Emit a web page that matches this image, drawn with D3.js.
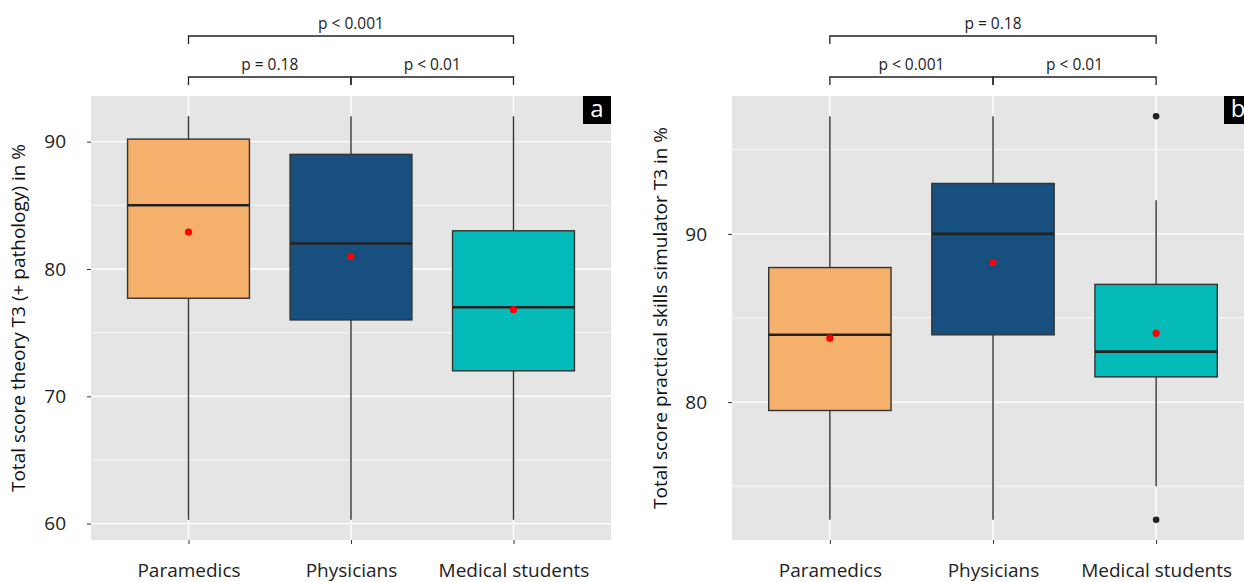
<!DOCTYPE html>
<html>
<head>
<meta charset="utf-8">
<script src="https://cdn.jsdelivr.net/npm/d3@7"></script>
<style>
  html, body { margin: 0; padding: 0; background: #fff; }
  svg { display: block; font-family: "Open Sans", "Noto Sans", sans-serif; }
</style>
</head>
<body>
<svg id="chart" width="1244" height="582"></svg>
<script>
// Groups shown on both panels
const groups = ["Paramedics", "Physicians", "Medical students"];
const fills = ["#F5B06B", "#17507F", "#05BBBA"];

// Panel a: theory score T3 (+ pathology)
const theoryLow    = [60.3, 60.3, 60.3];
const theoryQ1     = [77.7, 76, 72];
const theoryMedian = [85, 82, 77];
const theoryQ3     = [90.2, 89, 83];
const theoryHigh   = [92, 92, 92];
const theoryMean   = [82.9, 81, 76.8];
const theoryOutliers = [[], [], []];
const theoryTicks  = [60, 70, 80, 90];
const theoryMinor  = [65, 75, 85];
const theoryP      = ["p = 0.18", "p < 0.01", "p < 0.001"];

// Panel b: practical skills simulator score T3
const skillsLow    = [73, 73, 75];
const skillsQ1     = [79.5, 84, 81.5];
const skillsMedian = [84, 90, 83];
const skillsQ3     = [88, 93, 87];
const skillsHigh   = [97, 97, 92];
const skillsMean   = [83.8, 88.3, 84.1];
const skillsOutliers = [[], [], [73, 97]];
const skillsTicks  = [80, 90];
const skillsMinor  = [75, 85, 95];
const skillsP      = ["p < 0.001", "p < 0.01", "p = 0.18"];

const svg = d3.select("#chart");
const panelTop = 96, panelBottom = 540;

function panel(opt) {
  const g = svg.append("g");
  const x = d3.scalePoint().domain(groups).range([opt.x0, opt.x1]).padding(0.6);
  const step = x.step();
  const boxW = step * 0.75;

  const lo = d3.min([...opt.low, ...opt.outliers.flat()]);
  const hi = d3.max([...opt.high, ...opt.outliers.flat()]);
  const pad = (hi - lo) * 0.05;
  const y = d3.scaleLinear().domain([lo - pad, hi + pad]).range([panelBottom, panelTop]);

  // panel background
  g.append("rect").attr("x", opt.x0).attr("y", panelTop)
    .attr("width", opt.x1 - opt.x0).attr("height", panelBottom - panelTop)
    .attr("fill", "#E5E5E5");

  // grid
  g.selectAll(".minor").data(opt.minor).join("line")
    .attr("x1", opt.x0).attr("x2", opt.x1)
    .attr("y1", d => y(d)).attr("y2", d => y(d))
    .attr("stroke", "#fff").attr("stroke-width", 0.7);
  g.selectAll(".major").data(opt.ticks).join("line")
    .attr("x1", opt.x0).attr("x2", opt.x1)
    .attr("y1", d => y(d)).attr("y2", d => y(d))
    .attr("stroke", "#fff").attr("stroke-width", 1.4);
  g.selectAll(".vmajor").data(groups).join("line")
    .attr("x1", d => x(d)).attr("x2", d => x(d))
    .attr("y1", panelTop).attr("y2", panelBottom)
    .attr("stroke", "#fff").attr("stroke-width", 1.4);

  // whiskers, boxes, medians, outliers, means
  groups.forEach((grp, i) => {
    const cx = x(grp);
    g.append("line").attr("x1", cx).attr("x2", cx)
      .attr("y1", y(opt.q3[i])).attr("y2", y(opt.high[i]))
      .attr("stroke", "#333").attr("stroke-width", 1.4);
    g.append("line").attr("x1", cx).attr("x2", cx)
      .attr("y1", y(opt.q1[i])).attr("y2", y(opt.low[i]))
      .attr("stroke", "#333").attr("stroke-width", 1.4);
    g.append("rect")
      .attr("x", cx - boxW / 2).attr("width", boxW)
      .attr("y", y(opt.q3[i])).attr("height", y(opt.q1[i]) - y(opt.q3[i]))
      .attr("fill", fills[i]).attr("stroke", "#333").attr("stroke-width", 1.4);
    g.append("line")
      .attr("x1", cx - boxW / 2).attr("x2", cx + boxW / 2)
      .attr("y1", y(opt.median[i])).attr("y2", y(opt.median[i]))
      .attr("stroke", "#222").attr("stroke-width", 2.6);
    opt.outliers[i].forEach(v => {
      g.append("circle").attr("cx", cx).attr("cy", y(v)).attr("r", 3.3)
        .attr("fill", "#222");
    });
    g.append("circle").attr("cx", cx).attr("cy", y(opt.mean[i])).attr("r", 3.6)
      .attr("fill", "#FF0000");
  });

  // y axis
  const ya = g.append("g").attr("transform", `translate(${opt.x0},0)`)
    .call(d3.axisLeft(y).tickValues(opt.ticks).tickSize(4).tickPadding(21).tickFormat(d3.format("d")));
  ya.select(".domain").remove();
  ya.selectAll("line").attr("stroke", "#333");
  ya.selectAll("text").attr("font-size", 19).attr("fill", "#222")
    .attr("font-family", "'Open Sans', sans-serif");

  // x axis
  const xa = g.append("g").attr("transform", `translate(0,${panelBottom})`)
    .call(d3.axisBottom(x).tickSize(4).tickPadding(20));
  xa.select(".domain").remove();
  xa.selectAll("line").attr("stroke", "#333");
  xa.selectAll("text").attr("font-size", 19).attr("fill", "#222")
    .attr("font-family", "'Open Sans', sans-serif");

  // y title
  g.append("text")
    .attr("transform", `translate(${opt.titleX},${(panelTop + panelBottom) / 2}) rotate(-90)`)
    .attr("text-anchor", "middle").attr("dominant-baseline", "central")
    .attr("font-size", 19).attr("fill", "#111")
    .text(opt.title);

  // panel tag
  const tagW = 28;
  g.append("rect").attr("x", opt.tagX).attr("y", panelTop)
    .attr("width", tagW).attr("height", 28).attr("fill", "#000");
  g.append("text").attr("x", opt.tagX + tagW / 2).attr("y", panelTop + 21)
    .attr("text-anchor", "middle").attr("font-size", 24).attr("fill", "#fff")
    .text(opt.tag);

  // significance brackets
  const pairs = [[0, 1, 77, 85], [1, 2, 77, 85], [0, 2, 36, 44]];
  pairs.forEach((p, k) => {
    const xa1 = x(groups[p[0]]), xa2 = x(groups[p[1]]);
    g.append("path")
      .attr("d", `M${xa1},${p[3]}V${p[2]}H${xa2}V${p[3]}`)
      .attr("fill", "none").attr("stroke", "#222").attr("stroke-width", 1.3);
    g.append("text").attr("x", (xa1 + xa2) / 2).attr("y", p[2] - 7)
      .attr("text-anchor", "middle").attr("font-size", 15.5).attr("fill", "#222")
      .text(opt.p[k]);
  });
}

panel({
  x0: 91, x1: 611, titleX: 18, tag: "a", tagX: 583,
  low: theoryLow, q1: theoryQ1, median: theoryMedian, q3: theoryQ3, high: theoryHigh,
  mean: theoryMean, outliers: theoryOutliers, ticks: theoryTicks, minor: theoryMinor,
  p: theoryP, title: "Total score theory T3 (+ pathology) in %"
});

panel({
  x0: 732, x1: 1254, titleX: 660, tag: "b", tagX: 1224,
  low: skillsLow, q1: skillsQ1, median: skillsMedian, q3: skillsQ3, high: skillsHigh,
  mean: skillsMean, outliers: skillsOutliers, ticks: skillsTicks, minor: skillsMinor,
  p: skillsP, title: "Total score practical skills simulator T3 in %"
});
</script>
</body>
</html>
